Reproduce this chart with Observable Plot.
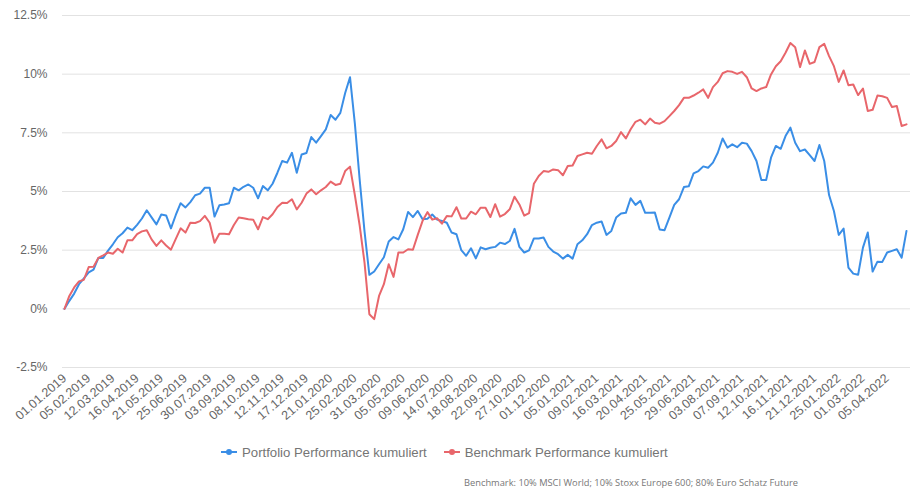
<!DOCTYPE html>
<html><head><meta charset="utf-8">
<script src="https://cdn.jsdelivr.net/npm/d3@7"></script>
<script src="https://cdn.jsdelivr.net/npm/@observablehq/plot@0.6"></script>
<style>
body{margin:0;background:#fff;font-family:"Liberation Sans",Arial,sans-serif;}
#wrap{position:relative;width:912px;height:489px;overflow:hidden;background:#fff;}
#chart{position:absolute;left:0;top:0;}
#legend{position:absolute;left:221px;top:443px;height:18px;display:flex;align-items:center;font-size:13.2px;color:#757575;white-space:nowrap;}
.item{display:flex;align-items:center;margin-right:17px;}
.item svg{margin-right:5px;}
#caption{position:absolute;left:464px;top:476px;font-family:"Open Sans",sans-serif;font-size:9.3px;color:#777;white-space:nowrap;}
</style></head><body>
<div id="wrap"><div id="chart"></div><div id="legend"></div><div id="caption"></div></div>
<script>
const startDate = "2019-01-01";
const seriesNames = ["Portfolio Performance kumuliert", "Benchmark Performance kumuliert"];
const colors = ["#3a8ee6", "#e8666b"];
const captionText = "Benchmark: 10% MSCI World; 10% Stoxx Europe 600; 80% Euro Schatz Future";
const yTicks = [-2.5, 0, 2.5, 5, 7.5, 10, 12.5];
const tickLabels = ["01.01.2019","05.02.2019","12.03.2019","16.04.2019","21.05.2019","25.06.2019","30.07.2019","03.09.2019","08.10.2019","12.11.2019","17.12.2019","21.01.2020","25.02.2020","31.03.2020","05.05.2020","09.06.2020","14.07.2020","18.08.2020","22.09.2020","27.10.2020","01.12.2020","05.01.2021","09.02.2021","16.03.2021","20.04.2021","25.05.2021","29.06.2021","03.08.2021","07.09.2021","12.10.2021","16.11.2021","21.12.2021","25.01.2022","01.03.2022","05.04.2022"];
const portfolio = [0,0.34,0.65,1.05,1.3,1.55,1.67,2.17,2.17,2.48,
2.75,3.05,3.22,3.46,3.35,3.58,3.85,4.2,3.9,3.6,
4.02,3.98,3.43,4.0,4.5,4.32,4.55,4.84,4.91,5.16,
5.16,3.93,4.41,4.45,4.5,5.16,5.05,5.2,5.3,5.16,
4.71,5.23,5.05,5.33,5.8,6.3,6.23,6.65,5.8,6.58,
6.64,7.32,7.08,7.36,7.65,8.26,8.06,8.35,9.2,9.87,
7.9,5.5,3.3,1.45,1.59,1.9,2.2,2.87,3.06,2.96,
3.39,4.13,3.91,4.17,3.82,3.84,4.02,3.8,3.74,3.67,
3.25,3.18,2.5,2.26,2.58,2.15,2.62,2.54,2.6,2.64,
2.82,2.76,2.89,3.41,2.64,2.4,2.49,3.0,3.0,3.04,
2.64,2.44,2.33,2.14,2.3,2.14,2.75,2.92,3.18,3.57,
3.67,3.72,3.15,3.32,3.89,4.06,4.09,4.71,4.43,4.6,
4.09,4.09,4.1,3.38,3.35,3.89,4.43,4.67,5.19,5.22,
5.77,5.87,6.07,6.01,6.23,6.65,7.26,6.87,7.01,6.89,
7.08,7.04,6.72,6.3,5.49,5.49,6.44,6.94,6.82,7.36,
7.72,7.08,6.72,6.79,6.55,6.3,6.98,6.3,4.85,4.17,
3.15,3.42,1.76,1.5,1.45,2.61,3.25,1.59,2.01,2.0,
2.4,2.47,2.54,2.18,3.32];
const benchmark = [0,0.55,0.91,1.17,1.24,1.78,1.79,2.17,2.28,2.4,
2.35,2.56,2.4,2.92,2.92,3.18,3.3,3.35,2.96,2.68,
2.92,2.7,2.52,2.98,3.43,3.25,3.67,3.66,3.74,3.96,
3.67,2.82,3.2,3.2,3.18,3.57,3.89,3.86,3.82,3.8,
3.39,3.91,3.82,4.03,4.34,4.52,4.51,4.67,4.24,4.52,
4.91,5.09,4.88,5.05,5.19,5.42,5.28,5.33,5.87,6.06,
4.85,3.55,1.97,-0.23,-0.44,0.55,1.05,1.9,1.36,2.4,
2.4,2.54,2.52,3.15,3.75,4.12,3.8,3.86,3.63,3.96,
3.94,4.33,3.85,3.85,4.14,4.03,4.31,4.31,3.91,4.46,
3.93,4.04,4.24,4.78,4.45,3.97,4.08,5.33,5.66,5.87,
5.84,5.94,5.91,5.69,6.09,6.11,6.51,6.58,6.65,6.61,
6.94,7.22,6.84,6.94,7.15,7.53,7.26,7.65,7.97,8.06,
7.86,8.11,7.93,7.89,8.0,8.21,8.43,8.68,8.99,8.99,
9.09,9.21,9.35,8.99,9.45,9.67,10.04,10.13,10.1,10.01,
10.1,9.87,9.39,9.28,9.39,9.45,9.99,10.34,10.55,10.91,
11.33,11.15,10.3,11.01,10.44,10.52,11.15,11.29,10.77,10.34,
9.67,10.16,9.53,9.56,9.11,9.39,8.43,8.48,9.09,9.06,
8.99,8.6,8.64,7.79,7.86];

const parseTick = d3.utcParse("%d.%m.%Y");
const t0 = d3.utcParse("%Y-%m-%d")(startDate);
const dates = portfolio.map((_, i) => d3.utcDay.offset(t0, 7 * i));
const tickDates = tickLabels.map(parseTick);
const rows = [];
portfolio.forEach((v, i) => rows.push({date: dates[i], value: v, series: seriesNames[0]}));
benchmark.forEach((v, i) => rows.push({date: dates[i], value: v, series: seriesNames[1]}));

const chart = Plot.plot({
  width: 912, height: 432,
  marginLeft: 62, marginRight: 2, marginTop: 15, marginBottom: 65,
  style: {fontFamily: "'Liberation Sans', Arial, sans-serif", fontSize: "12px", color: "#666", background: "white"},
  x: {type: "utc", domain: [dates[0], dates[dates.length - 1]], insetLeft: 2, insetRight: 4},
  y: {domain: [-2.5, 12.5]},
  color: {domain: seriesNames, range: colors},
  marks: [
    Plot.gridY(yTicks, {stroke: "#e2e2e2", strokeOpacity: 1, strokeWidth: 1}),
    Plot.axisY(yTicks, {tickSize: 0, tickPadding: 15, fontSize: 12, tickFormat: d => d + "%", fill: "#666", label: null}),
    Plot.axisX(tickDates, {tickSize: 0, tickPadding: 9, fontSize: 12.5, tickRotate: -41, tickFormat: d3.utcFormat("%d.%m.%Y"), fill: "#666", label: null}),
    Plot.line(rows, {x: "date", y: "value", z: "series", stroke: "series", strokeWidth: 2})
  ]
});
document.getElementById("chart").append(chart);

const legend = document.getElementById("legend");
seriesNames.forEach((name, i) => {
  const item = document.createElement("span");
  item.className = "item";
  item.innerHTML = `<svg width="16" height="10"><line x1="0" x2="16" y1="5" y2="5" stroke="${colors[i]}" stroke-width="2"/><circle cx="8" cy="5" r="3" fill="${colors[i]}"/></svg>`;
  const t = document.createElement("span");
  t.textContent = name;
  item.append(t);
  legend.append(item);
});
document.getElementById("caption").textContent = captionText;
</script>
</body></html>
